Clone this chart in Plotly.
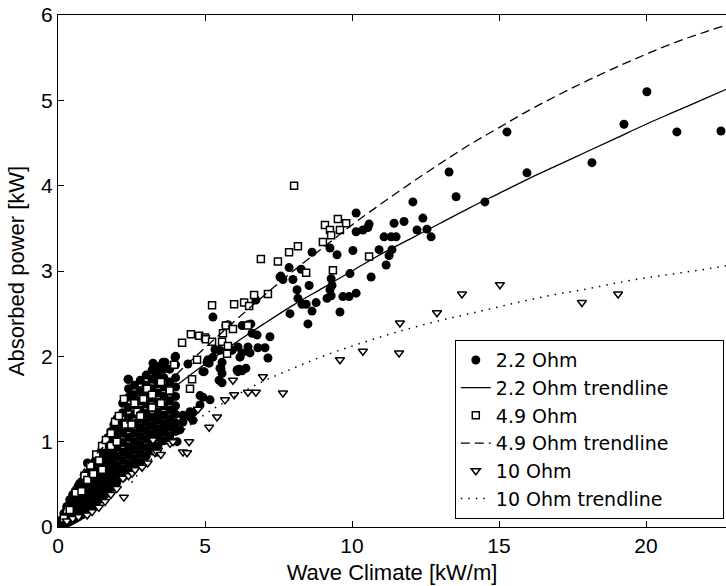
import plotly.graph_objects as go

# ---------------- data ----------------
# 2.2 Ohm (filled circles): dense cluster near the origin, then sparse points
ohm22_x = [
    0.1, 0.1,
    0.2, 0.2, 0.2,
    0.3, 0.3, 0.3, 0.3,
    0.4, 0.4, 0.4, 0.4,
    0.5, 0.5, 0.5, 0.5, 0.5,
    0.6, 0.6, 0.6, 0.6, 0.6,
    0.7, 0.7, 0.7, 0.7, 0.7,
    0.8, 0.8, 0.8, 0.8, 0.8,
    0.9, 0.9, 0.9, 0.9, 0.9,
    1.0, 1.0, 1.0, 1.0, 1.0, 1.0,
    1.1, 1.1, 1.1, 1.1, 1.1,
    1.2, 1.2, 1.2, 1.2, 1.2, 1.2,
    1.3, 1.3, 1.3, 1.3, 1.3, 1.3,
    1.4, 1.4, 1.4, 1.4, 1.4, 1.4,
    1.5, 1.5, 1.5, 1.5, 1.5, 1.5,
    1.6, 1.6, 1.6, 1.6, 1.6, 1.6, 1.6,
    1.7, 1.7, 1.7, 1.7, 1.7, 1.7, 1.7,
    1.8, 1.8, 1.8, 1.8, 1.8, 1.8, 1.8,
    1.9, 1.9, 1.9, 1.9, 1.9, 1.9, 1.9, 1.9,
    2.0, 2.0, 2.0, 2.0, 2.0, 2.0, 2.0, 2.0,
    2.2, 2.2, 2.2, 2.2, 2.2, 2.2, 2.2, 2.2, 2.2,
    2.4, 2.4, 2.4, 2.4, 2.4, 2.4, 2.4, 2.4, 2.4, 2.4, 2.4,
    2.6, 2.6, 2.6, 2.6, 2.6, 2.6, 2.6, 2.6, 2.6, 2.6,
    2.8, 2.8, 2.8, 2.8, 2.8, 2.8, 2.8, 2.8, 2.8, 2.8,
    3.0, 3.0, 3.0, 3.0, 3.0, 3.0, 3.0, 3.0, 3.0, 3.0,
    3.2, 3.2, 3.2, 3.2, 3.2, 3.2, 3.2, 3.2, 3.2, 3.2,
    3.4, 3.4, 3.4, 3.4, 3.4, 3.4, 3.4, 3.4, 3.4, 3.4,
    3.6, 3.6, 3.6, 3.6, 3.6, 3.6, 3.6, 3.6, 3.6,
    3.8, 3.8, 3.8, 3.8, 3.8, 3.8, 3.8, 3.8,
    4.0, 4.0, 4.0, 4.0, 4.0, 4.0, 4.0, 4.0, 4.0,
    4.05, 4.15, 4.25, 4.25, 4.49, 4.49, 4.59, 4.59, 4.83, 4.83, 4.93, 5.17, 3.4,
    3.23, 3.57, 3.98, 4.42, 4.93, 5.1, 5.34, 5.51, 5.48, 5.58, 5.58, 5.58, 5.54,
    6.16, 6.39, 6.09, 6.26, 6.12, 5.14, 4.97, 5.07, 5.27, 2.38, 3.64, 3.3,
    5.27, 5.71, 5.78, 6.26, 6.46, 6.56, 6.6, 6.77, 7.21, 6.12, 6.46, 6.8, 7.04,
    5.92, 5.51, 6.26, 6.53, 7.14, 6.19, 6.73, 7.55, 7.65, 7.58, 7.86, 8.27, 7.99,
    8.54, 8.13, 8.16, 8.3, 8.44, 8.78, 9.15, 9.25, 9.29, 8.64, 7.89, 8.5, 8.64,
    9.25, 9.49, 10.03, 9.93, 10.65, 9.32, 9.29, 9.69, 9.9, 10.14, 9.59, 10.14,
    10.14, 10.37, 10.54, 10.58, 11.09, 11.33, 11.5, 11.36, 10.92, 11.26, 11.16,
    11.43, 11.77, 12.07, 12.41, 12.21, 12.55, 12.69, 13.3, 13.54,
    14.52, 15.27, 15.95, 18.16, 19.25, 20.03, 21.05, 22.55,
]
ohm22_y = [
    0.02, 0.08,
    0.04, 0.10, 0.16,
    0.05, 0.12, 0.18, 0.24,
    0.06, 0.14, 0.22, 0.32,
    0.08, 0.16, 0.24, 0.31, 0.38,
    0.10, 0.18, 0.26, 0.34, 0.43,
    0.12, 0.21, 0.30, 0.39, 0.48,
    0.14, 0.23, 0.33, 0.43, 0.53,
    0.16, 0.26, 0.36, 0.47, 0.58,
    0.19, 0.29, 0.40, 0.51, 0.63, 0.75,
    0.22, 0.32, 0.43, 0.55, 0.68,
    0.25, 0.35, 0.46, 0.57, 0.65, 0.74,
    0.28, 0.38, 0.49, 0.60, 0.70, 0.80,
    0.32, 0.42, 0.53, 0.64, 0.75, 0.86,
    0.35, 0.45, 0.56, 0.67, 0.80, 0.92,
    0.38, 0.48, 0.59, 0.70, 0.81, 0.90, 0.98,
    0.42, 0.52, 0.62, 0.73, 0.84, 0.95, 1.05,
    0.45, 0.55, 0.65, 0.76, 0.88, 1.00, 1.12,
    0.49, 0.59, 0.69, 0.80, 0.91, 1.02, 1.12, 1.20,
    0.52, 0.62, 0.72, 0.83, 0.94, 1.05, 1.16, 1.27,
    0.58, 0.68, 0.78, 0.88, 0.99, 1.10, 1.22, 1.34, 1.45,
    0.64, 0.74, 0.84, 0.94, 1.05, 1.16, 1.28, 1.40, 1.52, 1.62, 1.73,
    0.70, 0.80, 0.90, 1.00, 1.10, 1.21, 1.32, 1.44, 1.55, 1.66,
    0.76, 0.86, 0.96, 1.06, 1.16, 1.26, 1.37, 1.48, 1.60, 1.72,
    0.83, 0.93, 1.03, 1.13, 1.23, 1.33, 1.44, 1.55, 1.66, 1.78,
    0.89, 0.99, 1.09, 1.19, 1.29, 1.40, 1.51, 1.62, 1.73, 1.84,
    0.95, 1.05, 1.15, 1.25, 1.35, 1.46, 1.57, 1.68, 1.78, 1.88,
    1.01, 1.11, 1.21, 1.31, 1.42, 1.53, 1.64, 1.75, 1.85,
    1.07, 1.17, 1.27, 1.37, 1.48, 1.59, 1.70, 1.85,
    1.12, 1.22, 1.32, 1.42, 1.53, 1.64, 1.75, 1.90, 2.00,
    1.00, 1.14, 1.23, 1.31, 1.29, 1.35, 1.34, 1.25, 1.43, 1.54, 1.52, 1.49, 1.08,
    1.92, 1.93, 1.99, 1.91, 1.82, 1.96, 2.08, 1.86, 1.72, 1.69, 1.80, 1.93, 1.86,
    1.85, 1.86, 1.84, 1.83, 1.82, 1.92, 1.82, 1.93, 1.99, 1.73, 1.93, 1.82,
    2.46, 2.36, 2.37, 2.36, 2.37, 2.38, 2.27, 2.25, 2.23, 2.11, 2.11, 2.10, 2.10,
    2.07, 2.07, 2.04, 2.04, 1.98, 1.99, 2.66, 2.93, 2.90, 2.94, 3.04, 3.02, 2.90,
    2.83, 2.78, 2.68, 2.61, 2.61, 2.63, 2.68, 2.78, 2.91, 2.53, 2.50, 2.38, 3.22,
    3.27, 3.19, 3.24, 2.97, 2.93, 2.83, 2.71, 2.70, 2.70, 2.74, 2.52, 3.68,
    3.46, 3.48, 3.51, 3.55, 3.40, 3.40, 3.40, 3.25, 3.25, 3.18, 3.07,
    3.56, 3.58, 3.81, 3.62, 3.48, 3.49, 3.40, 4.16, 3.87,
    3.81, 4.63, 4.15, 4.27, 4.72, 5.10, 4.63, 4.64,
]

# 4.9 Ohm (open squares)
ohm49_x = [
    0.2, 0.3, 0.4, 0.6, 0.8, 0.9, 1.0, 1.1, 1.2, 1.3, 1.4, 1.5, 1.5, 1.63, 1.8, 1.8,
    1.94, 2.0, 2.07, 2.24, 2.3, 2.5, 2.6, 2.7, 2.8, 2.9, 3.03, 3.2, 3.2, 3.5, 3.5, 3.8,
    3.95, 4.22, 4.49, 4.52, 4.56, 4.73, 4.8, 5.0, 5.03, 5.24, 5.24, 5.58, 5.61,
    5.71, 5.75, 5.78, 5.95, 5.99, 6.33, 6.46, 6.5, 6.67, 6.9, 7.14, 7.48, 7.86,
    8.03, 8.16, 8.44, 9.01, 9.08, 9.25, 9.29, 9.35, 9.52, 9.8, 9.59, 10.58,
]
ohm49_y = [
    0.10, 0.20, 0.20, 0.40, 0.42, 0.60, 0.55, 0.72, 0.62, 0.85, 0.78, 0.95, 0.67, 1.02, 1.10, 0.95,
    1.23, 1.00, 1.30, 1.50, 1.20, 1.20, 1.45, 1.35, 1.30, 1.50, 1.62, 1.55, 1.40, 1.70, 1.45, 1.60,
    1.90, 2.16, 1.62, 2.26, 1.73, 1.96, 2.24, 2.22, 2.20, 2.60, 2.17, 2.17, 2.27,
    2.36, 2.03, 2.12, 2.32, 2.61, 2.63, 2.36, 2.59, 2.72, 3.14, 2.73, 3.11, 3.22,
    4.00, 3.29, 2.98, 3.34, 3.54, 3.48, 3.42, 3.01, 3.61, 3.56, 3.48, 3.17,
]

# 10 Ohm (open down-triangles)
ohm10_x = [
    0.3, 0.5, 0.7, 0.99, 1.16, 1.39, 1.6, 1.8, 2.0, 2.24, 2.21, 2.4, 2.52, 2.62, 2.86,
    3.05, 3.3, 3.37, 3.23, 3.5, 3.81, 3.91, 4.25, 4.39, 4.46, 4.76, 5.14, 5.41, 5.68,
    5.95, 5.99, 6.46, 6.73, 6.97, 7.65, 9.59, 10.37, 11.6, 11.63, 12.89, 13.74,
    15.03, 17.82, 19.05,
]
ohm10_y = [
    0.07, 0.10, 0.12, 0.14, 0.18, 0.23, 0.30, 0.38, 0.45, 0.35, 0.57, 0.60, 0.63, 0.67, 0.70,
    0.75, 0.87, 0.88, 1.02, 0.85, 0.98, 1.00, 0.88, 0.87, 1.00, 1.38, 1.17, 1.29, 1.49,
    1.72, 1.55, 1.58, 1.58, 1.76, 1.57, 1.96, 2.06, 2.04, 2.39, 2.51, 2.73,
    2.84, 2.63, 2.73,
]

# trendlines
trend_x = [0, 0.5, 1, 2, 3, 4, 5, 6, 7, 8, 9, 10, 11, 12, 13, 14, 15, 16, 17, 18, 19, 20, 21, 22, 23]
trend22_y = [0, 0.43, 0.67, 1.05, 1.37, 1.65, 1.91, 2.15, 2.38, 2.60, 2.80, 3.00, 3.20, 3.38, 3.56,
             3.74, 3.91, 4.08, 4.24, 4.40, 4.56, 4.72, 4.87, 5.02, 5.17]
trend49_y = [0, 0.45, 0.73, 1.10, 1.44, 1.78, 2.10, 2.41, 2.71, 3.00, 3.27, 3.54, 3.79, 4.03, 4.26,
             4.48, 4.68, 4.88, 5.06, 5.23, 5.39, 5.54, 5.68, 5.80, 5.91]
trend10_x = [2.5, 3, 4, 5, 6, 7, 8, 9, 10, 11, 12, 13, 14, 15, 16, 17, 18, 19, 20, 21, 22, 23]
trend10_y = [0.52, 0.73, 1.06, 1.32, 1.53, 1.71, 1.86, 2.00, 2.12, 2.23, 2.33, 2.42, 2.50, 2.58,
             2.66, 2.73, 2.79, 2.86, 2.92, 2.97, 3.02, 3.08]

series_names = ["2.2 Ohm", "2.2 Ohm trendline", "4.9 Ohm", "4.9 Ohm trendline",
                "10 Ohm", "10 Ohm trendline"]

x_ticks = [0, 5, 10, 15, 20]
y_ticks = [0, 1, 2, 3, 4, 5, 6]

FONT = "Liberation Sans, Arial, sans-serif"
LEGEND_FONT = "DejaVu Sans, sans-serif"
PAD = "\u00a0" * 8   # invisible padding: widens the legend box toward the right edge

fig = go.Figure()
fig.add_trace(go.Scatter(x=ohm22_x, y=ohm22_y, mode="markers", name=series_names[0],
                         marker=dict(symbol="circle", size=9, color="black", line=dict(width=0))))
fig.add_trace(go.Scatter(x=trend_x, y=trend22_y, mode="lines", name=series_names[1] + PAD,
                         line=dict(color="black", width=1.3, shape="spline")))
fig.add_trace(go.Scatter(x=ohm49_x, y=ohm49_y, mode="markers", name=series_names[2],
                         marker=dict(symbol="square", size=7, color="white",
                                     line=dict(color="black", width=1.5))))
fig.add_trace(go.Scatter(x=trend_x, y=trend49_y, mode="lines", name=series_names[3],
                         line=dict(color="black", width=1.3, dash="9px,5px", shape="spline")))
fig.add_trace(go.Scatter(x=ohm10_x, y=ohm10_y, mode="markers", name=series_names[4],
                         marker=dict(symbol="triangle-down", size=8, color="white",
                                     line=dict(color="black", width=1.5))))
fig.add_trace(go.Scatter(x=trend10_x, y=trend10_y, mode="lines", name=series_names[5],
                         line=dict(color="black", width=1.5, dash="1.5px,6px", shape="spline")))

fig.update_layout(
    width=726, height=586,
    margin=dict(l=58, r=0, t=15, b=59),
    plot_bgcolor="white", paper_bgcolor="white",
    font=dict(family=FONT, size=21, color="black"),
    showlegend=True,
    legend=dict(x=0.594, y=0.365, xanchor="left", yanchor="top",
                bordercolor="black", borderwidth=1, bgcolor="white",
                font=dict(family=LEGEND_FONT, size=19, color="black"),
                tracegroupgap=0, itemwidth=30),
)
fig.update_xaxes(range=[0, 22.72], tickvals=x_ticks, ticks="inside", ticklen=6,
                 tickcolor="black", showline=True, linecolor="black", linewidth=1,
                 mirror="ticks", showgrid=False, zeroline=False,
                 title=dict(text="Wave Climate [kW/m]", standoff=8,
                            font=dict(family=FONT, size=22)))
fig.update_yaxes(range=[0, 6], tickvals=y_ticks, ticks="inside", ticklen=6,
                 tickcolor="black", showline=True, linecolor="black", linewidth=1,
                 mirror=False, showgrid=False, zeroline=False,
                 title=dict(text="Absorbed power [kW]", standoff=10,
                            font=dict(family=FONT, size=22)))

fig.write_html("out.html", config={"displayModeBar": False},
               post_script="document.body.style.margin='0';document.body.style.padding='0';"
                           "document.body.style.overflow='hidden';")
